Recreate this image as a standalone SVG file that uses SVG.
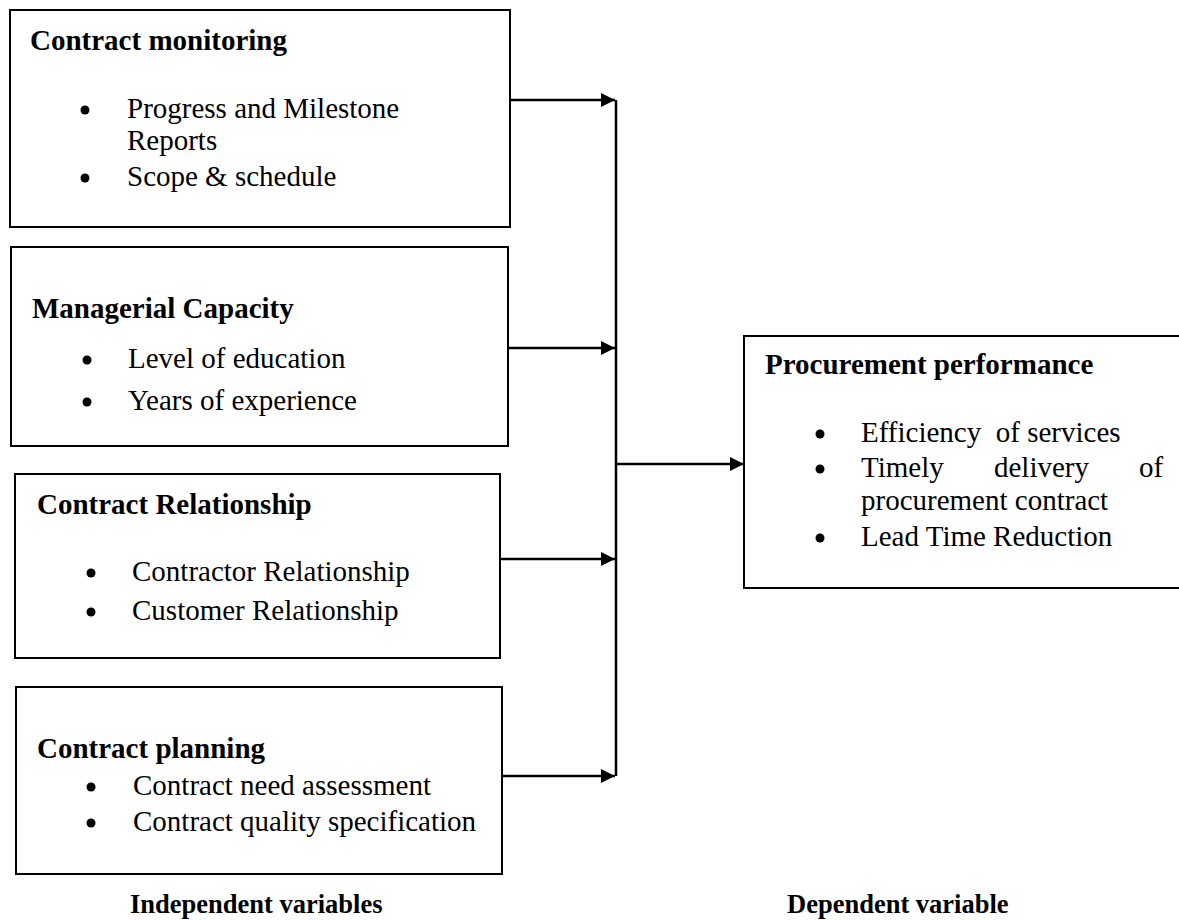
<svg xmlns="http://www.w3.org/2000/svg" width="1179" height="920" viewBox="0 0 1179 920">
<style>
.box{fill:#fff;stroke:#000;stroke-width:2}
.t{font-family:"Liberation Serif","Times New Roman",serif;font-size:29px;fill:#000;white-space:pre}
.h{font-weight:bold}
.lbl{font-family:"Liberation Serif","Times New Roman",serif;font-size:26.5px;font-weight:bold;fill:#000}
.b{fill:#000}
.c{stroke:#000;stroke-width:2.5;fill:none}
</style>
<defs>
<marker id="ah" markerWidth="14" markerHeight="14" refX="14" refY="7" orient="auto" markerUnits="userSpaceOnUse">
<path d="M0,0 L14,7 L0,14 Z" fill="#000"/>
</marker>
</defs>
<rect width="1179" height="920" fill="#fff"/>
<g id="connectors">
<line class="c" x1="616" y1="100" x2="616" y2="776"/>
<line class="c" x1="510" y1="100" x2="615" y2="100" marker-end="url(#ah)"/>
<line class="c" x1="508" y1="348" x2="615" y2="348" marker-end="url(#ah)"/>
<line class="c" x1="500" y1="559" x2="615" y2="559" marker-end="url(#ah)"/>
<line class="c" x1="502" y1="776" x2="615" y2="776" marker-end="url(#ah)"/>
<line class="c" x1="616" y1="464" x2="744" y2="464" marker-end="url(#ah)"/>
</g>
<g id="contract-monitoring">
<rect class="box" x="10" y="10" width="500" height="217"/>
<text class="t h" x="30" y="50">Contract monitoring</text>
<circle class="b" cx="85" cy="110" r="4.5"/>
<text class="t" x="127" y="118">Progress and Milestone</text>
<text class="t" x="127" y="150">Reports</text>
<circle class="b" cx="85" cy="178" r="4.5"/>
<text class="t" x="127" y="186">Scope &amp; schedule</text>
</g>
<g id="managerial-capacity">
<rect class="box" x="11" y="247" width="497" height="199"/>
<text class="t h" x="32" y="318">Managerial Capacity</text>
<circle class="b" cx="87" cy="360" r="4.5"/>
<text class="t" x="128" y="368">Level of education</text>
<circle class="b" cx="87" cy="402" r="4.5"/>
<text class="t" x="128" y="410">Years of experience</text>
</g>
<g id="contract-relationship">
<rect class="box" x="15" y="474" width="485" height="184"/>
<text class="t h" x="37" y="514">Contract Relationship</text>
<circle class="b" cx="91" cy="573" r="4.5"/>
<text class="t" x="132" y="581">Contractor Relationship</text>
<circle class="b" cx="91" cy="612" r="4.5"/>
<text class="t" x="132" y="620">Customer Relationship</text>
</g>
<g id="contract-planning">
<rect class="box" x="16" y="687" width="486" height="187"/>
<text class="t h" x="37" y="758">Contract planning</text>
<circle class="b" cx="91" cy="787" r="4.5"/>
<text class="t" x="133" y="795">Contract need assessment</text>
<circle class="b" cx="91" cy="823" r="4.5"/>
<text class="t" x="133" y="831">Contract quality specification</text>
</g>
<g id="procurement-performance">
<rect class="box" x="744" y="336" width="440" height="252"/>
<text class="t h" x="765" y="374">Procurement performance</text>
<circle class="b" cx="820" cy="434" r="4.5"/>
<text class="t" x="861" y="442">Efficiency  of services</text>
<circle class="b" cx="820" cy="469" r="4.5"/>
<text class="t" y="477"><tspan x="861">Timely</tspan><tspan x="994">delivery</tspan><tspan x="1139">of</tspan></text>
<text class="t" x="861" y="510">procurement contract</text>
<circle class="b" cx="820" cy="538" r="4.5"/>
<text class="t" x="861" y="546">Lead Time Reduction</text>
</g>
<g id="labels">
<text class="lbl" x="130" y="913">Independent variables</text>
<text class="lbl" x="787" y="913">Dependent variable</text>
</g>
</svg>
